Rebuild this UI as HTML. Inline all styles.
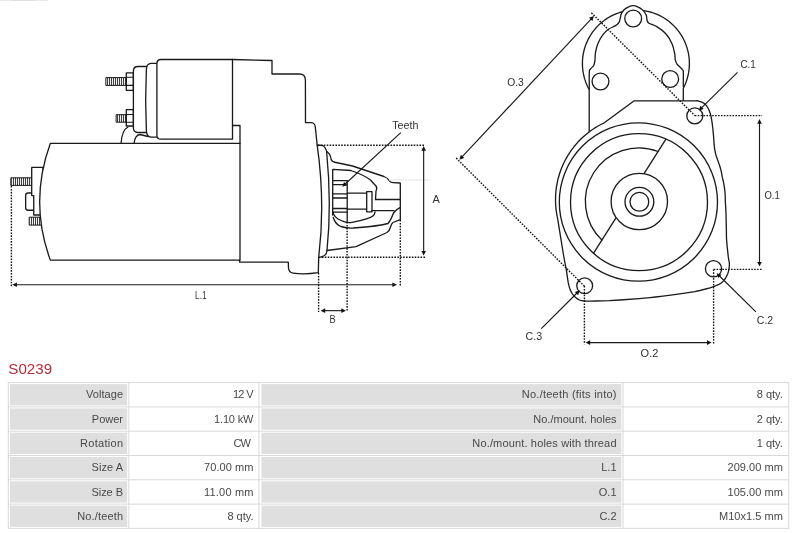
<!DOCTYPE html>
<html><head><meta charset="utf-8">
<style>
html,body{margin:0;padding:0;background:#fff;}
body{width:800px;height:533px;overflow:hidden;font-family:"Liberation Sans",sans-serif;}
svg{display:block;}
svg text{font-family:"Liberation Sans",sans-serif;}
.t{filter:url(#noop);}
</style></head><body>
<svg width="800" height="533" viewBox="0 0 800 533">
<defs>
<filter id="noop" x="-5%" y="-5%" width="110%" height="110%" color-interpolation-filters="sRGB"><feOffset dx="0" dy="0"/></filter>
<pattern id="thr" width="2" height="4" patternUnits="userSpaceOnUse"><rect width="2" height="4" fill="#f0f0f0"/><rect x="1.1" width="0.9" height="4" fill="#2a2a2a"/></pattern>
<g id="ah"><path d="M0.3,0 L-4.3,-2.3 L-4.3,2.3 Z"/></g>
</defs>
<rect x="0" y="0" width="800" height="533" fill="#fff"/>
<!-- tiny top-left artefact -->
<rect x="0" y="0" width="48" height="1" fill="#eaeaea"/><rect x="12" y="0" width="23" height="0.8" fill="#dcdcdc"/>

<!-- ================= LEFT FIGURE ================= -->
<g id="leftfig" fill="none" stroke="#1a1a1a" stroke-width="1.32" stroke-linejoin="round" stroke-linecap="round">
<!-- rear bolts / plate -->
<g id="rear">
<rect x="11.2" y="177.8" width="20.5" height="7.6" fill="url(#thr)" stroke-width="1"/>
<path d="M33.75,193 L28,193 Q25.65,193 25.65,195.5 L25.65,207.8 Q25.65,210.25 28,210.25 L33.75,210.25" fill="#fff"/>
<path d="M31.7,167.4 H43 V215 H33.75 V195.6 H31.7 Z" fill="#fff"/>
<rect x="29.6" y="217.2" width="12" height="7.9" fill="url(#thr)" stroke-width="1"/>
</g>
<!-- motor body -->
<path d="M50.3,143.45 L240,143.45 L240,260.1 L50.3,260.1 Q29,201.8 50.3,143.45 Z" fill="#fff"/>
<!-- fillets between body and solenoid -->
<path d="M121,143.45 Q122,130 128,127"/>
<path d="M134,143.45 Q135,135 140,134.5 L148,136.5"/>
<!-- solenoid bolts -->
<rect x="106.2" y="77.6" width="20.2" height="7.8" fill="url(#thr)" stroke-width="1"/>
<rect x="126.3" y="72.9" width="7.1" height="17.4" fill="#fff"/>
<path d="M126.3,77.2 H133.4 M126.3,85.4 H133.4" stroke-width="1.1"/>
<rect x="116.5" y="114.7" width="9.8" height="7.5" fill="url(#thr)" stroke-width="1"/>
<rect x="126.3" y="109.7" width="7.1" height="16.3" fill="#fff"/>
<path d="M126.3,114.5 H133.4 M126.3,122.2 H133.4" stroke-width="1.1"/>
<!-- solenoid front piece -->
<path d="M148,66.5 L138,66.5 Q133.4,66.5 133.4,71 L133.4,128 Q133.4,132.5 138,132.5 L148,132.5" fill="#fff"/>
<!-- cap ring -->
<path d="M157,63.3 L151,63.3 Q146.8,63.5 146.4,69 Q144.9,100 146.4,131 Q146.8,136.7 151,137.2 L157,137.2" fill="#fff"/>
<!-- solenoid body -->
<path d="M232.5,59.5 L161,59.5 Q156.9,59.5 156.9,63.5 L156.9,135.2 Q156.9,139.2 161,139.2 L232.5,139.2 Z" fill="#fff"/>
<!-- step -->
<path d="M232.5,125.5 L240,125.5 L240,143.45"/>
<!-- drive housing -->
<path d="M232.5,59.5 L272,60.5 L272,74 L299.5,74 Q305.3,74 305.4,80 L305.5,122.7 L311.5,122.7 Q314.8,123 315.3,127 L317.2,145.2 Q325.4,203 318.7,257 L318.3,272.7 Q304,274.8 293,273.1 Q288.8,272.4 288.5,268 L288.3,262.2 L239.6,262.2 L239.6,260.1"/>
<!-- nose -->
<path d="M317.2,145.2 L322.4,145.5 Q325.5,146.8 326.6,151.3 Q328.3,152.8 329.4,154.1 Q330.6,156 331.2,159.5 Q332,162 336,162.5 L352.5,166 L384,176.5 Q388,178 389,180.5 Q390,182.5 393,182.6 L400.3,183 L400.3,219.7 L393,222.5 Q391.5,223.5 390.5,227 Q389.5,231 387,232.5 L356,246.7 L327,250.5 Q326.5,256 321,257"/>
<path d="M326.6,151.3 Q331.8,205 327,250.5"/>
<!-- inner cavity -->
<path d="M332.7,215 L332.7,169.3 L351,170.5 Q366,176 370.5,180 Q374,184 376,186 Q377.5,188 376,191 L375.5,199.5"/>
<path d="M333,212.2 Q333.5,216 338,219 Q346,223.5 352,222.3 Q370,219 373.5,215.5 Q375,214 375,211.8"/>
<path d="M333.3,217.5 Q335,224 341,226.5 Q347,228.3 353,228 Q380,226 388,223.5 Q391,220 393.5,213 Q396,209.5 400,207.7"/>
<!-- pinion teeth -->
<path d="M333,180.6 H347 M333,184.6 H346 M333,193.8 H347.3 M333,198 H347.3 M333,208.5 H347.3 M333,212.2 H347.3"/>
<path d="M347.2,180.6 V222"/>
<!-- shaft -->
<path d="M347.4,193.2 H366.7 M347.4,209.2 H366.7"/>
<rect x="366.7" y="191.7" width="5.3" height="20.1" fill="#fff"/>
<path d="M375.5,199.5 H400.3 M372,210.7 H394"/>
</g>

<path d="M389,180 H430" stroke="#e2e2e2" stroke-width="1" fill="none"/>
<!-- left figure dimensions -->
<g fill="none" stroke="#141414" stroke-width="1.4" stroke-dasharray="1.6 1.3">
<path d="M318,145.2 H424.5"/>
<path d="M319,257.25 H426"/>
<path d="M11.4,186 V286.3"/>
<path d="M400.3,220 V286.3"/>
<path d="M347.1,222 V311.9"/>
<path d="M318.6,273 V311.9"/>
</g>
<g fill="none" stroke="#1a1a1a" stroke-width="1.15">
<path d="M423.65,150 V252"/>
<path d="M16,284.7 H393"/>
<path d="M324,310.65 H342.5"/>
<path d="M400.8,132.6 L345.2,184"/>
</g>
<g fill="#111" stroke="none">
<use href="#ah" transform="translate(423.65,146.4) rotate(-90)"/>
<use href="#ah" transform="translate(423.65,255.3) rotate(90)"/>
<use href="#ah" transform="translate(12.6,284.7) rotate(180)"/>
<use href="#ah" transform="translate(396.7,284.7)"/>
<use href="#ah" transform="translate(320.9,310.65) rotate(180)"/>
<use href="#ah" transform="translate(345.6,310.65)"/>
<use href="#ah" transform="translate(342.5,186.5) rotate(137.2)"/>
</g>
<g class="t" fill="#303030" font-size="10.2" stroke="none">
<text x="392.2" y="128.6" textLength="26.2" lengthAdjust="spacingAndGlyphs">Teeth</text>
<text x="432.6" y="203.1" textLength="7.3" lengthAdjust="spacingAndGlyphs">A</text>
<text x="195.1" y="298.8" textLength="11.4" lengthAdjust="spacingAndGlyphs">L.1</text>
<text x="329.6" y="323.3" textLength="6.2" lengthAdjust="spacingAndGlyphs">B</text>
</g>

<!-- ================= RIGHT FIGURE ================= -->
<g id="rightfig" fill="none" stroke="#1a1a1a" stroke-width="1.32" stroke-linejoin="round" stroke-linecap="round">
<!-- solenoid cap outline -->
<path d="M689.40,62.84 L689.20,58.91 L688.82,55.65 L688.24,52.42 L687.28,48.60 L686.05,44.86 L684.54,41.22 L682.77,37.70 L681.10,34.88 L678.87,31.63 L676.84,29.06 L674.19,26.14 L671.34,23.42 L668.81,21.32 L665.62,19.02 L662.84,17.28 L659.37,15.42 L655.77,13.82 L652.06,12.50 L648.90,11.60 L645.05,10.79 L641.80,10.33 L637.87,10.04 L633.93,10.04 L630.66,10.26 L627.40,10.68 L623.54,11.45 L619.74,12.50 L616.65,13.58 L613.03,15.14 L609.53,16.95 L606.73,18.65 L603.51,20.92 L601.46,22.56 L599.49,24.30 L597.61,26.14 L595.82,28.06 L594.13,30.07 L592.54,32.16 L591.05,34.33 L589.68,36.56 L588.41,38.86 L587.26,41.22 L586.22,43.63 L585.31,46.10 L584.34,49.23 L583.70,51.78 L583.19,54.35 L582.80,56.95 L582.60,58.91 L582.44,61.53 L582.44,65.47 L582.60,68.09 L582.80,70.05 L583.43,73.94 L584.34,77.77 L584.90,79.66 L585.75,82.14 L587.26,85.78 L588.11,87.55 L589.20,89.60 L589.20,140.00 L683.30,140.00 L683.30,88.31 L684.81,85.18 L686.05,82.14 L687.10,79.03 L687.95,75.86 L688.61,72.65 L689.07,69.40 L689.34,66.13 Z" fill="#fff"/>
<!-- inner contour -->
<path d="M589.3,88.9 C589.3,86.1 589.1,75.3 589.3,72.0 C589.4,68.7 589.4,70.4 590.2,69.3 C590.9,68.2 593.0,66.7 593.8,65.3 C594.5,63.8 594.6,63.0 594.9,60.8 C595.2,58.5 595.0,54.8 595.6,51.8 C596.1,48.8 597.1,45.6 598.3,42.8 C599.5,39.9 601.1,37.1 602.8,34.9 C604.4,32.6 606.3,30.8 608.4,29.3 C610.4,27.8 613.4,27.0 615.1,25.9 C616.9,24.8 618.1,23.8 619.0,22.5 C619.8,21.2 619.9,19.4 620.3,18.0 C620.7,16.6 620.6,15.3 621.2,14.0 C621.8,12.6 622.9,10.9 624.1,9.7 C625.4,8.5 627.1,7.4 628.6,6.8 C630.1,6.1 631.6,5.6 633.1,5.6 C634.6,5.6 636.0,6.0 637.6,6.8 C639.2,7.5 641.4,8.7 642.8,10.1 C644.2,11.5 645.5,13.4 646.2,15.1 C646.9,16.8 646.6,18.9 647.1,20.3 C647.5,21.6 647.3,22.1 648.9,23.2 C650.5,24.2 653.9,24.8 656.8,26.6 C659.6,28.3 663.2,30.9 665.8,33.8 C668.3,36.6 670.6,40.5 672.1,43.9 C673.6,47.3 674.2,51.4 674.8,54.0 C675.3,56.6 674.8,57.9 675.2,59.6 C675.6,61.3 675.8,62.4 677.0,64.1 C678.2,65.8 681.6,68.3 682.6,69.8 C683.7,71.3 683.2,70.3 683.3,73.1 C683.4,75.9 683.3,84.4 683.3,86.6" fill="#fff"/>
<circle cx="633.2" cy="18.5" r="8.4"/>
<circle cx="600.5" cy="81.5" r="8.4"/>
<circle cx="670.2" cy="79" r="8.4"/>
<!-- flange + body outline -->
<path d="M725.29,198.56 L725.20,195.43 L724.99,192.32 L724.38,187.14 L723.67,183.04 L723.00,179.98 L722.41,177.65 L721.50,172.60 L720.80,169.61 L720.00,166.79 L719.12,164.13 L716.52,156.74 L715.79,154.37 L715.20,152.00 L714.76,149.62 L714.42,147.26 L714.17,144.93 L713.57,136.36 L712.66,127.06 L712.02,122.05 L711.24,117.42 L710.77,115.30 L710.21,113.33 L709.58,111.48 L708.88,109.77 L707.70,107.50 L706.84,106.20 L705.92,105.07 L704.92,104.08 L704.38,103.62 L703.16,102.80 L702.44,102.43 L700.89,101.79 L699.40,101.27 L697.75,100.78 L697.03,100.70 L696.00,100.80 L634.20,100.80 L604.67,122.59 L601.30,124.24 L597.65,126.25 L594.10,128.43 L590.67,130.79 L588.17,132.67 L585.74,134.64 L583.38,136.69 L581.11,138.83 L577.49,142.58 L574.12,146.55 L570.99,150.71 L568.12,155.06 L565.52,159.58 L563.21,164.25 L561.19,169.04 L559.46,173.96 L558.04,178.97 L557.13,183.04 L556.42,187.14 L555.91,191.28 L555.60,195.43 L555.51,200.64 L555.66,204.81 L556.02,208.96 L556.58,213.09 L557.13,216.16 L557.59,218.33 L563.50,255.00 L564.48,260.50 L566.30,269.60 L567.68,279.20 L568.26,282.73 L568.96,285.72 L569.70,288.24 L570.09,289.37 L570.97,291.42 L572.00,293.30 L572.59,294.19 L573.91,295.81 L575.36,297.21 L576.86,298.40 L578.28,299.34 L579.44,300.00 L580.72,300.45 L582.54,300.77 L585.32,301.00 L587.06,301.06 L591.04,301.08 L595.45,301.01 L609.14,300.60 L620.00,300.00 L639.04,298.56 L650.00,297.60 L655.70,297.03 L662.94,296.20 L672.56,294.96 L683.14,293.47 L690.00,292.40 L694.78,291.56 L698.52,290.77 L704.65,289.25 L710.05,287.78 L713.37,286.73 L716.08,285.69 L718.30,284.71 L720.20,283.66 L721.89,282.43 L723.49,280.88 L724.93,279.03 L725.59,278.03 L726.75,275.93 L727.70,273.80 L728.42,271.60 L728.93,269.30 L729.11,268.14 L729.34,265.88 L729.40,263.82 L729.34,262.96 L728.68,259.48 L728.30,256.90 L727.16,246.52 L726.60,240.00 L726.44,236.54 L726.36,228.23 L726.02,214.68 L725.76,208.18 L725.28,201.30 Z" fill="#fff"/>
<circle cx="638.4" cy="202" r="79.1"/>
<circle cx="639" cy="202.1" r="68.5"/>
<path d="M658.1,151.5 A53.5,53.5 0 0 0 601.9,240.1"/>
<path d="M665.6,139.6 L593.6,253.2"/>
<circle cx="639.3" cy="201.5" r="28.2" fill="#fff"/>
<circle cx="639.4" cy="201.8" r="14.4"/>
<circle cx="639.4" cy="201.8" r="9.4"/>
<circle cx="694.8" cy="115.9" r="8"/>
<circle cx="713.5" cy="268.8" r="8.1"/>
<circle cx="584.7" cy="285.8" r="7.9"/>
</g>

<!-- right figure dimensions -->
<g fill="none" stroke="#141414" stroke-width="1.4" stroke-dasharray="1.6 1.3">
<path d="M591.4,12.8 L694.8,115.6"/>
<path d="M456.2,158.1 L584.5,286.3"/>
<path d="M694.8,115.6 H762"/>
<path d="M713.6,269.4 H762.3"/>
<path d="M713.6,269.4 V344.2"/>
<path d="M584.4,286 V344.2"/>
</g>
<g fill="none" stroke="#1a1a1a" stroke-width="1.15">
<path d="M591.5,18.6 L461.8,157.2"/>
<path d="M759.5,123 V262.5"/>
<path d="M589,342.6 H708"/>
<path d="M737.5,72.3 L701.5,107.8"/>
<path d="M755.9,311.9 L719.5,276"/>
<path d="M541.3,328.7 L577,293"/>
</g>
<g fill="#111" stroke="none">
<use href="#ah" transform="translate(593.7,16.2) rotate(-46.9)"/>
<use href="#ah" transform="translate(459.6,159.5) rotate(133.1)"/>
<use href="#ah" transform="translate(759.5,119.4) rotate(-90)"/>
<use href="#ah" transform="translate(759.5,266.3) rotate(90)"/>
<use href="#ah" transform="translate(585.9,342.6) rotate(180)"/>
<use href="#ah" transform="translate(711.3,342.6)"/>
<use href="#ah" transform="translate(699,110.3) rotate(135.4)"/>
<use href="#ah" transform="translate(716.9,273.4) rotate(-135.4)"/>
<use href="#ah" transform="translate(579.5,290.5) rotate(-44.7)"/>
</g>
<g class="t" fill="#303030" font-size="10.3" stroke="none">
<text x="507.2" y="85.6" textLength="16.6" lengthAdjust="spacingAndGlyphs">O.3</text>
<text x="740.4" y="68.1" textLength="15.4" lengthAdjust="spacingAndGlyphs">C.1</text>
<text x="764.4" y="199.4" textLength="15.4" lengthAdjust="spacingAndGlyphs">O.1</text>
<text x="756.8" y="323.5" textLength="16.4" lengthAdjust="spacingAndGlyphs">C.2</text>
<text x="525.6" y="339.7" textLength="16.6" lengthAdjust="spacingAndGlyphs">C.3</text>
<text x="640.6" y="356.8" textLength="17.8" lengthAdjust="spacingAndGlyphs">O.2</text>
</g>

<!-- ================= TABLE ================= -->
<g id="table" class="t">
<text x="8.3" y="374.3" font-size="14.7" fill="#b0303a" textLength="43.8" lengthAdjust="spacingAndGlyphs">S0239</text>
<rect x="9.9" y="384.1" width="117.3" height="21.3" fill="#dfdfdf"/>
<rect x="261.5" y="384.1" width="359.9" height="21.3" fill="#dfdfdf"/>
<rect x="9.9" y="408.4" width="117.3" height="21.3" fill="#dfdfdf"/>
<rect x="261.5" y="408.4" width="359.9" height="21.3" fill="#dfdfdf"/>
<rect x="9.9" y="432.7" width="117.3" height="21.3" fill="#dfdfdf"/>
<rect x="261.5" y="432.7" width="359.9" height="21.3" fill="#dfdfdf"/>
<rect x="9.9" y="457.0" width="117.3" height="21.3" fill="#dfdfdf"/>
<rect x="261.5" y="457.0" width="359.9" height="21.3" fill="#dfdfdf"/>
<rect x="9.9" y="481.3" width="117.3" height="21.3" fill="#dfdfdf"/>
<rect x="261.5" y="481.3" width="359.9" height="21.3" fill="#dfdfdf"/>
<rect x="9.9" y="505.6" width="117.3" height="21.3" fill="#dfdfdf"/>
<rect x="261.5" y="505.6" width="359.9" height="21.3" fill="#dfdfdf"/>
<g stroke="#d9d9d9" stroke-width="1" fill="none">
<path d="M7.800000000000001,382.6 H789.2"/>
<path d="M7.800000000000001,406.9 H789.2"/>
<path d="M7.800000000000001,431.2 H789.2"/>
<path d="M7.800000000000001,455.5 H789.2"/>
<path d="M7.800000000000001,479.8 H789.2"/>
<path d="M7.800000000000001,504.1 H789.2"/>
<path d="M7.800000000000001,528.4 H789.2"/>
<path d="M8.3,382.6 V528.4"/>
<path d="M128.8,382.6 V528.4"/>
<path d="M258.9,382.6 V528.4"/>
<path d="M623.0,382.6 V528.4"/>
<path d="M788.7,382.6 V528.4"/>
</g>
<g font-size="11" fill="#484848" text-anchor="end">
<text x="123" y="398.4" textLength="37" lengthAdjust="spacing">Voltage</text>
<text x="253.5" y="398.4" textLength="20.6" lengthAdjust="spacing">12 V</text>
<text x="616.5" y="398.4" textLength="94.7" lengthAdjust="spacing">No./teeth (fits into)</text>
<text x="782.8" y="398.4">8 qty.</text>
<text x="123" y="422.8" textLength="31.2" lengthAdjust="spacing">Power</text>
<text x="253.5" y="422.8" textLength="39.5" lengthAdjust="spacing">1.10 kW</text>
<text x="616.5" y="422.8" textLength="83.2" lengthAdjust="spacing">No./mount. holes</text>
<text x="782.8" y="422.8">2 qty.</text>
<text x="123" y="447.1" textLength="43" lengthAdjust="spacing">Rotation</text>
<text x="250.8" y="447.1" textLength="17.2" lengthAdjust="spacing">CW</text>
<text x="616.5" y="447.1" textLength="144.2" lengthAdjust="spacing">No./mount. holes with thread</text>
<text x="782.8" y="447.1">1 qty.</text>
<text x="123" y="471.3" textLength="31.5" lengthAdjust="spacing">Size A</text>
<text x="253.5" y="471.3" textLength="49.5" lengthAdjust="spacing">70.00 mm</text>
<text x="616.5" y="471.3">L.1</text>
<text x="782.8" y="471.3" textLength="55.3" lengthAdjust="spacing">209.00 mm</text>
<text x="123" y="495.7" textLength="31.5" lengthAdjust="spacing">Size B</text>
<text x="253.5" y="495.7" textLength="49.5" lengthAdjust="spacing">11.00 mm</text>
<text x="616.5" y="495.7">O.1</text>
<text x="782.8" y="495.7" textLength="55.3" lengthAdjust="spacing">105.00 mm</text>
<text x="123" y="520.0" textLength="45.8" lengthAdjust="spacing">No./teeth</text>
<text x="253.5" y="520.0">8 qty.</text>
<text x="616.5" y="520.0">C.2</text>
<text x="782.8" y="520.0" textLength="63.8" lengthAdjust="spacing">M10x1.5 mm</text>
</g>
</g>
</svg>
</body></html>
